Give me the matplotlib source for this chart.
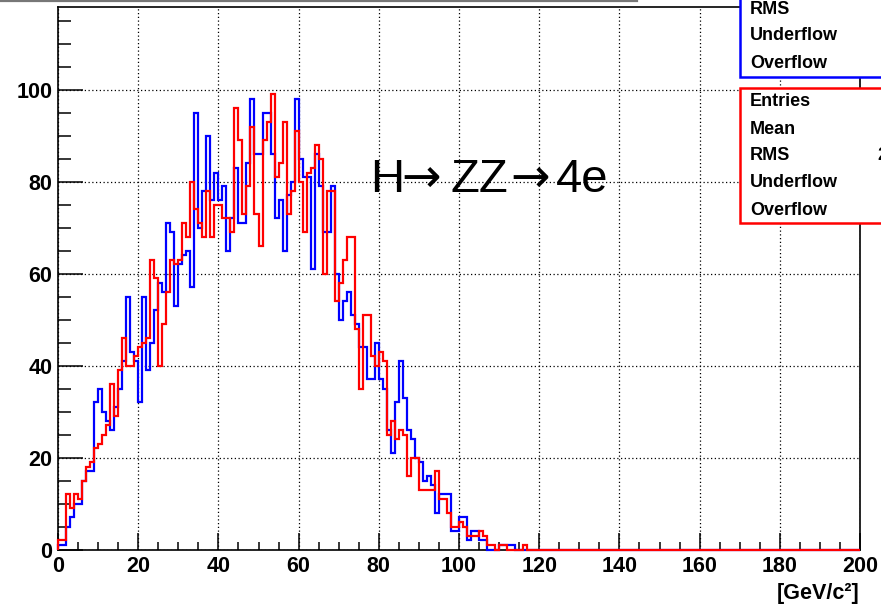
import matplotlib
matplotlib.use('Agg')
import matplotlib.pyplot as plt
from matplotlib.patches import Rectangle
from matplotlib.lines import Line2D
from matplotlib.ticker import MultipleLocator
import numpy as np

plt.rcParams['font.family'] = ['Liberation Sans', 'DejaVu Sans']

# 1 GeV bins from 0 to 200, counts (rest are zero)
n_bins = 200
x_min, x_max = 0, 200

blue_counts = [
    1, 1, 5, 7, 10, 10, 15, 17, 17, 32,
    35, 30, 28, 26, 31, 35, 41, 55, 43, 41,
    32, 55, 39, 45, 52, 58, 56, 71, 69, 53,
    62, 64, 65, 57, 95, 70, 78, 90, 76, 82,
    76, 79, 65, 72, 83, 71, 71, 84, 98, 86,
    86, 95, 95, 86, 72, 76, 65, 77, 80, 98,
    85, 81, 81, 61, 86, 79, 69, 69, 79, 60,
    50, 54, 56, 51, 49, 44, 44, 37, 37, 45,
    37, 35, 26, 21, 32, 41, 33, 26, 24, 20,
    19, 15, 16, 14, 8, 12, 12, 12, 4, 4,
    7, 7, 2, 4, 4, 2, 2, 0, 0, 0,
    1, 1, 1, 1,
]

red_counts = [
    2, 2, 12, 9, 12, 11, 15, 18, 19, 22,
    23, 25, 27, 36, 29, 39, 46, 40, 40, 42,
    44, 45, 46, 63, 59, 40, 49, 56, 63, 62,
    63, 71, 68, 80, 74, 71, 68, 78, 68, 75,
    75, 72, 72, 69, 96, 89, 73, 79, 92, 73,
    66, 89, 93, 99, 81, 84, 93, 73, 78, 91,
    80, 69, 82, 83, 88, 85, 60, 78, 78, 54,
    58, 63, 68, 68, 48, 35, 51, 51, 42, 40,
    43, 41, 25, 28, 24, 26, 25, 16, 20, 20,
    13, 13, 13, 13, 17, 11, 11, 8, 5, 5,
    6, 5, 3, 3, 3, 4, 3, 1, 1, 0,
    1, 1, 0, 0, 0, 0, 1,
]

stat_labels_blue = ['RMS', 'Underflow', 'Overflow']
stat_labels_red = ['Entries', 'Mean', 'RMS', 'Underflow', 'Overflow']

edges = np.linspace(x_min, x_max, n_bins + 1)
blue = np.zeros(n_bins)
blue[:len(blue_counts)] = blue_counts
red = np.zeros(n_bins)
red[:len(red_counts)] = red_counts

W, H = 881, 607
fig = plt.figure(figsize=(W / 100, H / 100), dpi=100)
ax = fig.add_axes([58 / W, 1 - 549.5 / H, (860 - 58) / W, (549.5 - 7) / H])

ax.stairs(blue, edges, baseline=0, color='#0000ff', lw=1.6, zorder=3, clip_on=False)
ax.stairs(red, edges, baseline=0, color='#ff0000', lw=1.6, zorder=4, clip_on=False)

ax.set_xlim(x_min, x_max)
ax.set_ylim(0, 118)
ax.xaxis.set_major_locator(MultipleLocator(20))
ax.xaxis.set_minor_locator(MultipleLocator(5))
ax.yaxis.set_major_locator(MultipleLocator(20))
ax.yaxis.set_minor_locator(MultipleLocator(5))

ax.grid(True, which='major', color='black', linestyle=(0, (1, 2)), lw=0.9)
ax.tick_params(axis='both', which='both', direction='in', width=1.1, color='black')
ax.tick_params(axis='y', which='major', length=18, pad=4)
ax.tick_params(axis='y', which='minor', length=9.5)
ax.tick_params(axis='x', which='major', length=12, pad=5)
ax.tick_params(axis='x', which='minor', length=6)
for lab in ax.get_xticklabels() + ax.get_yticklabels():
    lab.set_fontsize(15.5)
    lab.set_fontweight('bold')
for s in ax.spines.values():
    s.set_linewidth(1.2)

fig.text(860 / W, 1 - 594 / H, '[GeV/c²]', ha='right', va='center',
         fontsize=15.5, fontweight='bold')

# H -> ZZ -> 4e label, arrows taken from DejaVu for their long shaft
label_parts = [('H', 370, 'Liberation Sans'), ('→', 401, 'DejaVu Sans'),
               ('ZZ', 451, 'Liberation Sans'), ('→', 510, 'DejaVu Sans'),
               ('4e', 556, 'Liberation Sans')]
for txt, xp, fam in label_parts:
    fig.text(xp / W, 1 - 192 / H, txt, ha='left', va='baseline',
             fontsize=34, family=fam)

# grey edge of the (cropped) title box
fig.add_artist(Line2D([0, 637 / W], [1 - 0.8 / H, 1 - 0.8 / H],
                      transform=fig.transFigure, color='#777777', lw=1.6))

# stat boxes, cut by the right edge of the picture
fig.add_artist(Rectangle((740 / W, 1 - 77 / H), 160 / W, 100 / H,
                         transform=fig.transFigure, facecolor='white',
                         edgecolor='#0000ff', lw=1.8, zorder=10))
fig.add_artist(Rectangle((740 / W, 1 - 223 / H), 160 / W, 135 / H,
                         transform=fig.transFigure, facecolor='white',
                         edgecolor='#ff0000', lw=1.8, zorder=10))

for lab, yp in zip(stat_labels_blue, [9, 36, 64]):
    fig.text(750 / W, 1 - yp / H, lab, ha='left', va='center', fontsize=13,
             fontweight='bold', zorder=11)
for lab, yp in zip(stat_labels_red, [101, 129, 155, 183, 210]):
    fig.text(750 / W, 1 - yp / H, lab, ha='left', va='center', fontsize=13,
             fontweight='bold', zorder=11)
fig.text(877 / W, 1 - 155 / H, '21.9', ha='left', va='center', fontsize=13,
         fontweight='bold', zorder=11)

fig.savefig('out.png', dpi=100)
